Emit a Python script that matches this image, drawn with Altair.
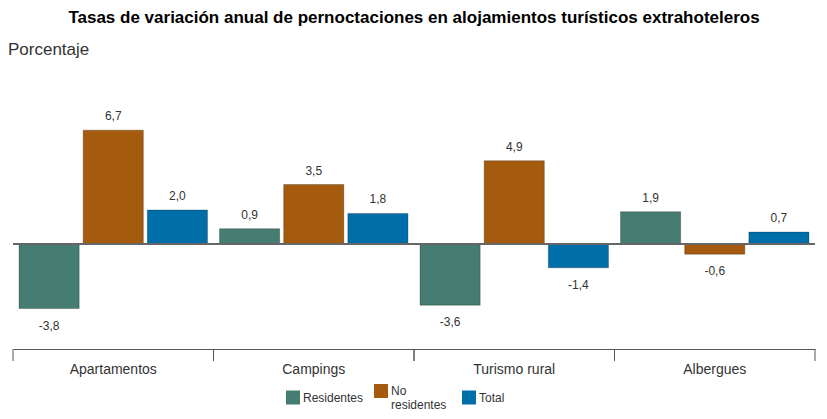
import altair as alt
import pandas as pd

categories = ["Apartamentos", "Campings", "Turismo rural", "Albergues"]
series = ["Residentes", "No residentes", "Total"]
residentes = [-3.8, 0.9, -3.6, 1.9]
no_residentes = [6.7, 3.5, 4.9, -0.6]
total = [2.0, 1.8, -1.4, 0.7]
colors = ["#467d72", "#a55b0d", "#006ea9"]

title_text = "Tasas de variación anual de pernoctaciones en alojamientos turísticos extrahoteleros"
y_title = "Porcentaje"

rows = []
for s, vals in zip(series, [residentes, no_residentes, total]):
    for c, v in zip(categories, vals):
        rows.append({"cat": c, "serie": s, "valor": v})
df = pd.DataFrame(rows)

FONT = "Liberation Sans, Arial, sans-serif"
W, H = 802, 269

x = alt.X("cat:N", sort=categories,
          scale=alt.Scale(paddingInner=0, paddingOuter=0),
          axis=alt.Axis(title=None, ticks=False, domain=True, domainColor="#555",
                        domainWidth=1, labelFontSize=14, labelColor="#333",
                        labelPadding=13, labelAngle=0, labelFont=FONT))
xo = alt.XOffset("serie:N", sort=series,
                 scale=alt.Scale(domain=series, paddingInner=0.0625, paddingOuter=0.094))
y = alt.Y("valor:Q", scale=alt.Scale(domain=[-6.18, 9.65], nice=False, zero=False), axis=None)
color = alt.Color("serie:N", sort=series,
                  scale=alt.Scale(domain=series, range=colors),
                  legend=alt.Legend(title=None, orient="none", direction="horizontal",
                                    legendX=273, legendY=304, gridAlign="all",
                                    symbolType="square", symbolSize=196,
                                    symbolStrokeWidth=0, labelFontSize=12,
                                    labelColor="#333", labelFont=FONT,
                                    labelOffset=3, columnPadding=10,
                                    labelExpr="datum.label == 'No residentes' ? ['No', 'residentes'] : datum.label"))

base = alt.Chart(df)

bars = base.mark_bar(stroke="#000", strokeOpacity=0.25, strokeWidth=1).encode(
    x=x, xOffset=xo, y=y, y2=alt.datum(0), color=color)

lab = base.transform_calculate(
    lbl="replace(replace(format(datum.valor, '.1f'), '.', ','), '\u2212', '-')")
pos_labels = lab.transform_filter("datum.valor >= 0").mark_text(
    baseline="bottom", dy=-7, fontSize=12, color="#333", font=FONT).encode(
    x=x, xOffset=xo, y=y, text="lbl:N")
neg_labels = lab.transform_filter("datum.valor < 0").mark_text(
    baseline="top", dy=12, fontSize=12, color="#333", font=FONT).encode(
    x=x, xOffset=xo, y=y, text="lbl:N")

zero = alt.Chart(pd.DataFrame({"valor": [0]})).mark_rule(
    color="#666", strokeWidth=2).encode(y=y)

cat_df = pd.DataFrame({"cat": categories})
ticks_start = alt.Chart(cat_df).mark_rule(color="#555", strokeWidth=1).encode(
    x=alt.X("cat:N", sort=categories, bandPosition=0),
    y=alt.value(H), y2=alt.value(H + 12))
ticks_end = alt.Chart(cat_df).mark_rule(color="#555", strokeWidth=1).encode(
    x=alt.X("cat:N", sort=categories, bandPosition=1),
    y=alt.value(H), y2=alt.value(H + 12))

title = alt.Chart(pd.DataFrame({"t": [title_text]})).mark_text(
    fontSize=17, fontWeight="bold", color="#000", font=FONT,
    align="center", baseline="alphabetic").encode(
    x=alt.value(W / 2), y=alt.value(-57), text="t:N")
ytitle = alt.Chart(pd.DataFrame({"t": [y_title]})).mark_text(
    fontSize=17, color="#333", font=FONT, align="left", baseline="middle").encode(
    x=alt.value(-5), y=alt.value(-30), text="t:N")

chart = alt.layer(bars, zero, pos_labels, neg_labels, ticks_start, ticks_end,
                  title, ytitle).properties(
    width=W, height=H,
    autosize=alt.AutoSizeParams(type="none"),
    padding={"left": 5, "top": 72, "right": 4, "bottom": 62},
    background="white",
).configure_view(stroke=None)

chart.save("out.html", embed_options={"renderer": "svg", "actions": False})
